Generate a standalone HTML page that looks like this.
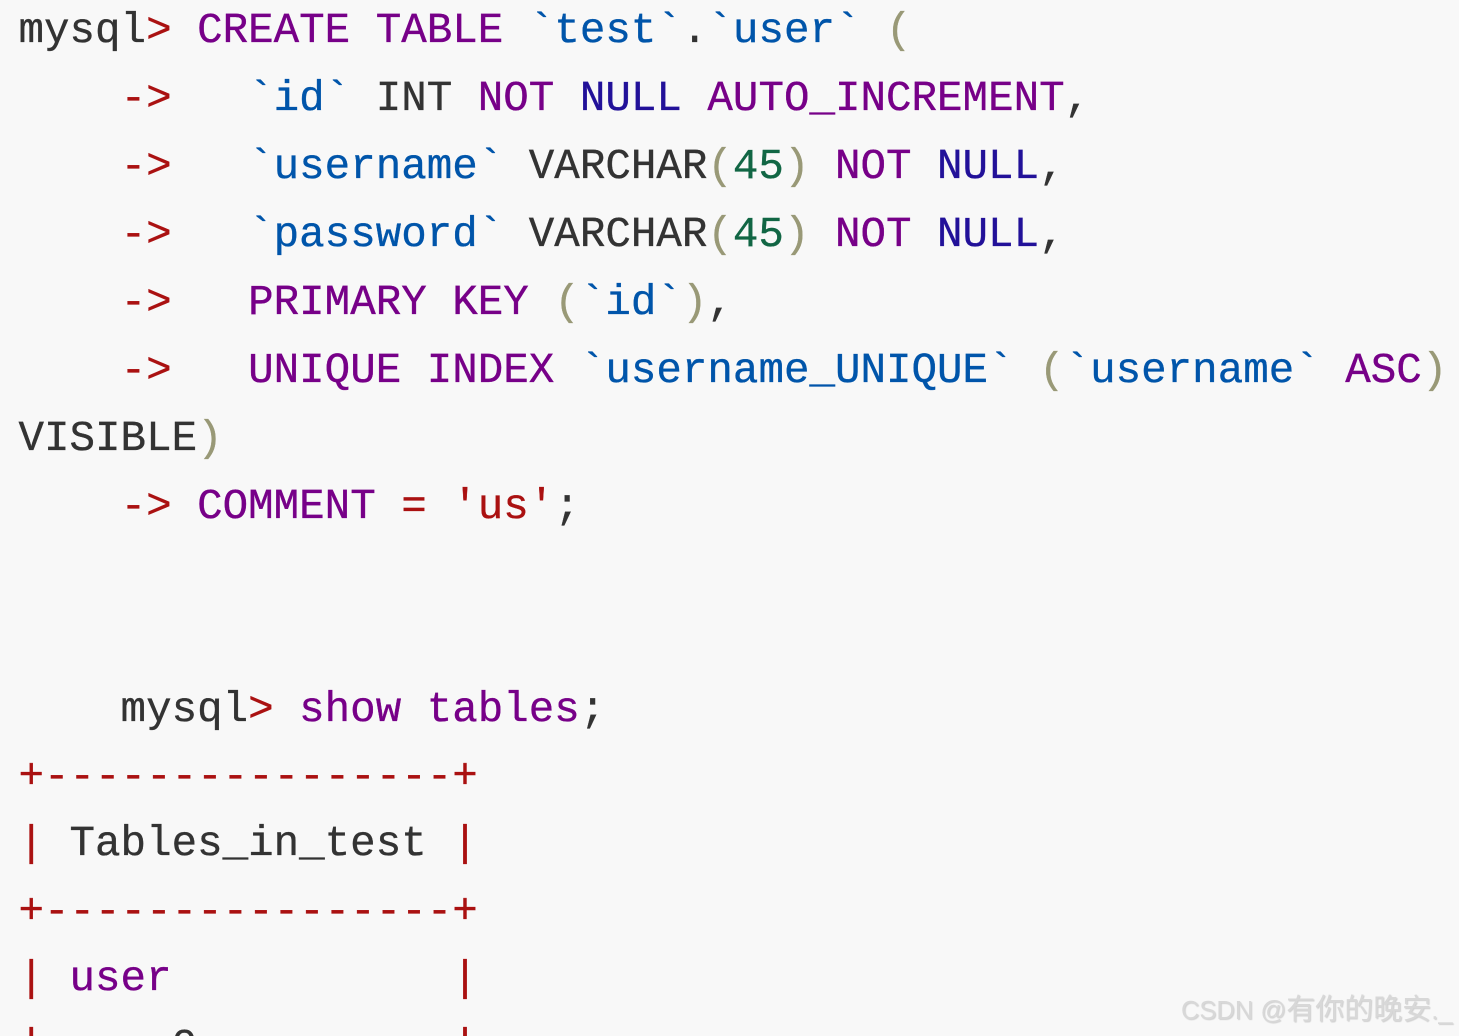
<!DOCTYPE html>
<html><head><meta charset="utf-8"><style>
html,body{margin:0;padding:0;background:#f8f8f8;width:1459px;height:1036px;overflow:hidden}
#c{position:relative;width:1459px;height:1036px;overflow:hidden;background:#f8f8f8}
.l{position:absolute;left:18.5px;height:68px;font:42.52px/68px "Liberation Mono",monospace;color:#333;white-space:pre;-webkit-text-stroke:0.35px currentColor}
.k{color:#708}.b{color:#05a}.r{color:#a11}.a{color:#219}.n{color:#164}.p{color:#997}
.w{position:absolute;left:1181px;top:988px;font:25.5px/38px "Liberation Sans",sans-serif;color:#d8d8d8;text-shadow:1px 1px 1px #d0d0d0;white-space:pre}
.w span{font:29px/38px "WenQuanYi Zen Hei","Noto Sans CJK SC",sans-serif;font-weight:normal}
</style></head><body><div id="c">
<div class="l" style="top:-3px">mysql<span class="r">&gt;</span> <span class="k">CREATE</span> <span class="k">TABLE</span> <span class="b">`test`</span>.<span class="b">`user`</span> <span class="p">(</span></div>
<div class="l" style="top:65px">    <span class="r">-&gt;</span>   <span class="b">`id`</span> INT <span class="k">NOT</span> <span class="a">NULL</span> <span class="k">AUTO_INCREMENT</span>,</div>
<div class="l" style="top:133px">    <span class="r">-&gt;</span>   <span class="b">`username`</span> VARCHAR<span class="p">(</span><span class="n">45</span><span class="p">)</span> <span class="k">NOT</span> <span class="a">NULL</span>,</div>
<div class="l" style="top:201px">    <span class="r">-&gt;</span>   <span class="b">`password`</span> VARCHAR<span class="p">(</span><span class="n">45</span><span class="p">)</span> <span class="k">NOT</span> <span class="a">NULL</span>,</div>
<div class="l" style="top:269px">    <span class="r">-&gt;</span>   <span class="k">PRIMARY</span> <span class="k">KEY</span> <span class="p">(</span><span class="b">`id`</span><span class="p">)</span>,</div>
<div class="l" style="top:337px">    <span class="r">-&gt;</span>   <span class="k">UNIQUE</span> <span class="k">INDEX</span> <span class="b">`username_UNIQUE`</span> <span class="p">(</span><span class="b">`username`</span> <span class="k">ASC</span><span class="p">)</span></div>
<div class="l" style="top:405px">VISIBLE<span class="p">)</span></div>
<div class="l" style="top:473px">    <span class="r">-&gt;</span> <span class="k">COMMENT</span> <span class="r">=</span> <span class="r">'us'</span>;</div>
<div class="l" style="top:676px">    mysql<span class="r">&gt;</span> <span class="k">show</span> <span class="k">tables</span>;</div>
<div class="l" style="top:743px"><span class="r">+----------------+</span></div>
<div class="l" style="top:810px"><span class="r">|</span> Tables_in_test <span class="r">|</span></div>
<div class="l" style="top:878px"><span class="r">+----------------+</span></div>
<div class="l" style="top:945px"><span class="r">|</span> <span class="k">user</span>           <span class="r">|</span></div>
<div class="l" style="top:1013px"><span class="r">|</span> <span style="position:relative;top:4px">user</span>0          <span class="r">|</span></div>
<div class="w">CSDN @<span>有你的晚安</span>._</div>
</div></body></html>
